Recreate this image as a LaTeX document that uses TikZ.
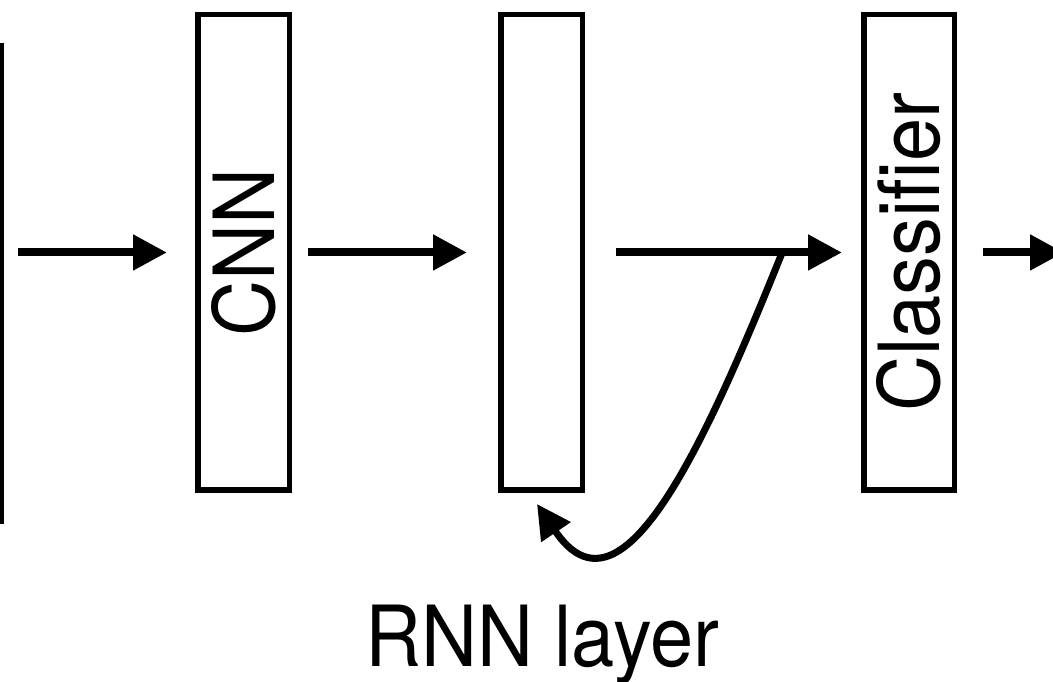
\documentclass[tikz,border=0pt]{standalone}
\usepackage{fontspec}
\setmainfont{TeX Gyre Heros}[FakeStretch=0.92]
\usepackage{graphicx}
\usetikzlibrary{arrows.meta}

\begin{document}
\begin{tikzpicture}[
    box/.style={draw, line width=0.055cm, minimum height=4.755cm, inner sep=0pt},
    arr/.style={line width=0.08cm, -{Triangle[length=0.34cm, width=0.34cm]}},
    lbl/.style={font=\fontsize{24}{28}\selectfont}
  ]
  \useasboundingbox (0,0) rectangle (10.53,6.82);

  % blocks
  \node[box, minimum width=1cm, anchor=east] (input) at (0.04,3.98) {};
  \node[box, lbl, minimum width=0.915cm] (cnn) at (2.435,4.295) {\rotatebox{90}{CNN}};
  \node[box, minimum width=0.815cm] (rnn) at (5.415,4.295) {};
  \node[box, lbl, minimum width=0.905cm] (clf) at (9.09,4.295) {\rotatebox{90}{Classifier}};
  \coordinate (out) at (10.64,4.295);

  % forward arrows
  \draw[arr, shorten <=0.14cm, shorten >=0.28cm] (input.east |- cnn.west) -- (cnn.west);
  \draw[arr, shorten <=0.16cm, shorten >=0.31cm] (cnn.east) -- (rnn.west);
  \draw[arr, shorten <=0.31cm, shorten >=0.19cm] (rnn.east) -- (clf.west);
  \draw[arr, shorten <=0.26cm] (clf.east) -- (out);

  % recurrent loop
  \coordinate (loop) at (7.82,4.29);
  \draw[line width=0.07cm, -{Triangle[length=0.34cm, width=0.34cm]}]
    (loop) .. controls (7.0,2.25) and (6.2,0.55) .. ([shift={(-0.045,-0.11)}]rnn.south);

  % label
  \node[lbl, anchor=base] (rnnlbl) at (5.42,0.15) {RNN layer};
\end{tikzpicture}
\end{document}
